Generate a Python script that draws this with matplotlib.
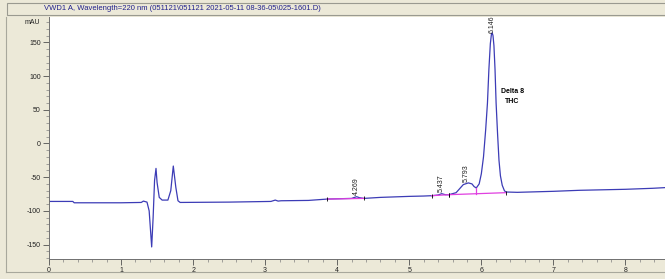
import numpy as np
import matplotlib
matplotlib.use('Agg')
import matplotlib.pyplot as plt
from matplotlib.ticker import MultipleLocator

plt.rcParams['font.family'] = ['Liberation Sans', 'DejaVu Sans']

# trace (retention time [min], signal [mAU])
time = [0.00, 0.33, 0.35, 1.00, 1.28, 1.31, 1.36, 1.39, 1.425, 1.445, 1.465, 1.485,
        1.50, 1.53, 1.57, 1.65, 1.69, 1.725, 1.76, 1.79, 1.82, 2.50, 3.08, 3.14,
        3.18, 3.22, 3.60, 3.86, 4.20, 4.24, 4.27, 4.31, 4.37, 4.60, 5.00, 5.20,
        5.31, 5.40, 5.45, 5.50, 5.55, 5.65, 5.70, 5.75, 5.82, 5.87, 5.90, 5.93,
        5.97, 6.00, 6.03, 6.06, 6.085, 6.105, 6.125, 6.14, 6.151, 6.162, 6.175, 6.19,
        6.205, 6.225, 6.245, 6.265, 6.29, 6.32, 6.34, 6.50, 7.00, 7.36, 8.00, 8.38, 8.55]
signal = [-86, -86, -88, -88, -87.5, -85.5, -87, -100, -153.5, -110, -55, -37,
          -58, -80, -84, -84, -70, -33.5, -65, -85, -87.5, -87, -86, -84,
          -85.5, -85, -84.5, -82.5, -81.5, -80, -79, -80.5, -81.5, -80, -78.5, -78,
          -77.5, -76.5, -74.5, -76, -76, -73, -67, -61, -58.5, -60, -64, -66,
          -60, -45, -20, 20, 60, 110, 148, 162, 164, 160, 145, 110,
          60, 15, -25, -48, -62, -70, -72, -72.5, -71, -69.5, -68, -66.5, -65.5]

# integration baselines (start/end time and signal)
base_t = [[3.86, 4.37], [5.31, 5.55], [5.55, 6.34]]
base_y = [[-82.5, -81.5], [-77.5, -76], [-76, -73]]
drop_t = 5.93
drop_y = [-74.7, -66]

# peak labels
peak_rt = [4.269, 5.437, 5.793, 6.146]
peak_top = [-79, -74.5, -58.5, 162]
peak_txt = ['4.269', '5.437', '5.793', '6.146']

title = 'VWD1 A, Wavelength=220 nm (051121\\051121 2021-05-11 08-36-05\\025-1601.D)'
bg = '#ECE9D8'
trace_col = '#3c3cb6'

fig = plt.figure(figsize=(6.65, 2.79), dpi=100, facecolor=bg)

# title bar
fig.add_artist(plt.Rectangle((7 / 665, 1 - 14.5 / 279), 1, 11.5 / 279,
                             transform=fig.transFigure, facecolor=bg,
                             edgecolor='#9a9a90', lw=0.8))
fig.text(182 / 665, 1 - 8.5 / 279, title, color='#20208c', fontsize=5.5,
         ha='center', va='center')
# frame lines
fig.add_artist(plt.Line2D([6 / 665, 6 / 665], [1 - 17 / 279, 1 - 272 / 279],
                          transform=fig.transFigure, color='#a8a89c', lw=0.8))
fig.add_artist(plt.Line2D([6 / 665, 1], [1 - 272 / 279, 1 - 272 / 279],
                          transform=fig.transFigure, color='#a8a89c', lw=0.8))

ax = fig.add_axes([49 / 665, 20 / 279, 616 / 665, 242 / 279])
ax.set_facecolor('white')

ax.plot(time, signal, color=trace_col, lw=0.9)
for bt, by in zip(base_t, base_y):
    ax.plot(bt, by, color='#e040e0', lw=0.9)
    ax.plot(bt, by, ls='none', marker='|', ms=3, mew=0.6, color='black')
ax.plot([drop_t, drop_t], drop_y, color='#e040e0', lw=0.9)

for rt, top, txt in zip(peak_rt, peak_top, peak_txt):
    ax.text(rt, top + 2, txt, rotation=90, ha='center', va='bottom',
            fontsize=5, color='#202020', clip_on=True)

ax.text(6.27, 77, 'Delta 8', fontsize=5, fontweight='bold', ha='left', va='center')
ax.text(6.33, 62, 'THC', fontsize=5, fontweight='bold', ha='left', va='center')

ax.set_xlim(0, 8.549)
ax.set_ylim(-171.4, 187.6)
ax.xaxis.set_major_locator(MultipleLocator(1))
ax.xaxis.set_minor_locator(MultipleLocator(0.2))
ax.set_yticks([-150, -100, -50, 0, 50, 100, 150])
ax.yaxis.set_minor_locator(MultipleLocator(10))
ax.tick_params(which='major', length=4, width=0.6, labelsize=5, pad=2,
               colors='#505050', labelcolor='#202020')
ax.tick_params(which='minor', length=2, width=0.5, colors='#808080')
ax.yaxis.set_major_formatter(plt.FuncFormatter(lambda v, p: f'{int(v)}'))
ax.text(-0.12, 180, 'mAU', fontsize=5, ha='right', va='center', color='#202020')

for s in ['top', 'right']:
    ax.spines[s].set_visible(False)
for s in ['left', 'bottom']:
    ax.spines[s].set_color('#707070')
    ax.spines[s].set_linewidth(0.7)

fig.savefig('out.png', dpi=100, facecolor=bg)
